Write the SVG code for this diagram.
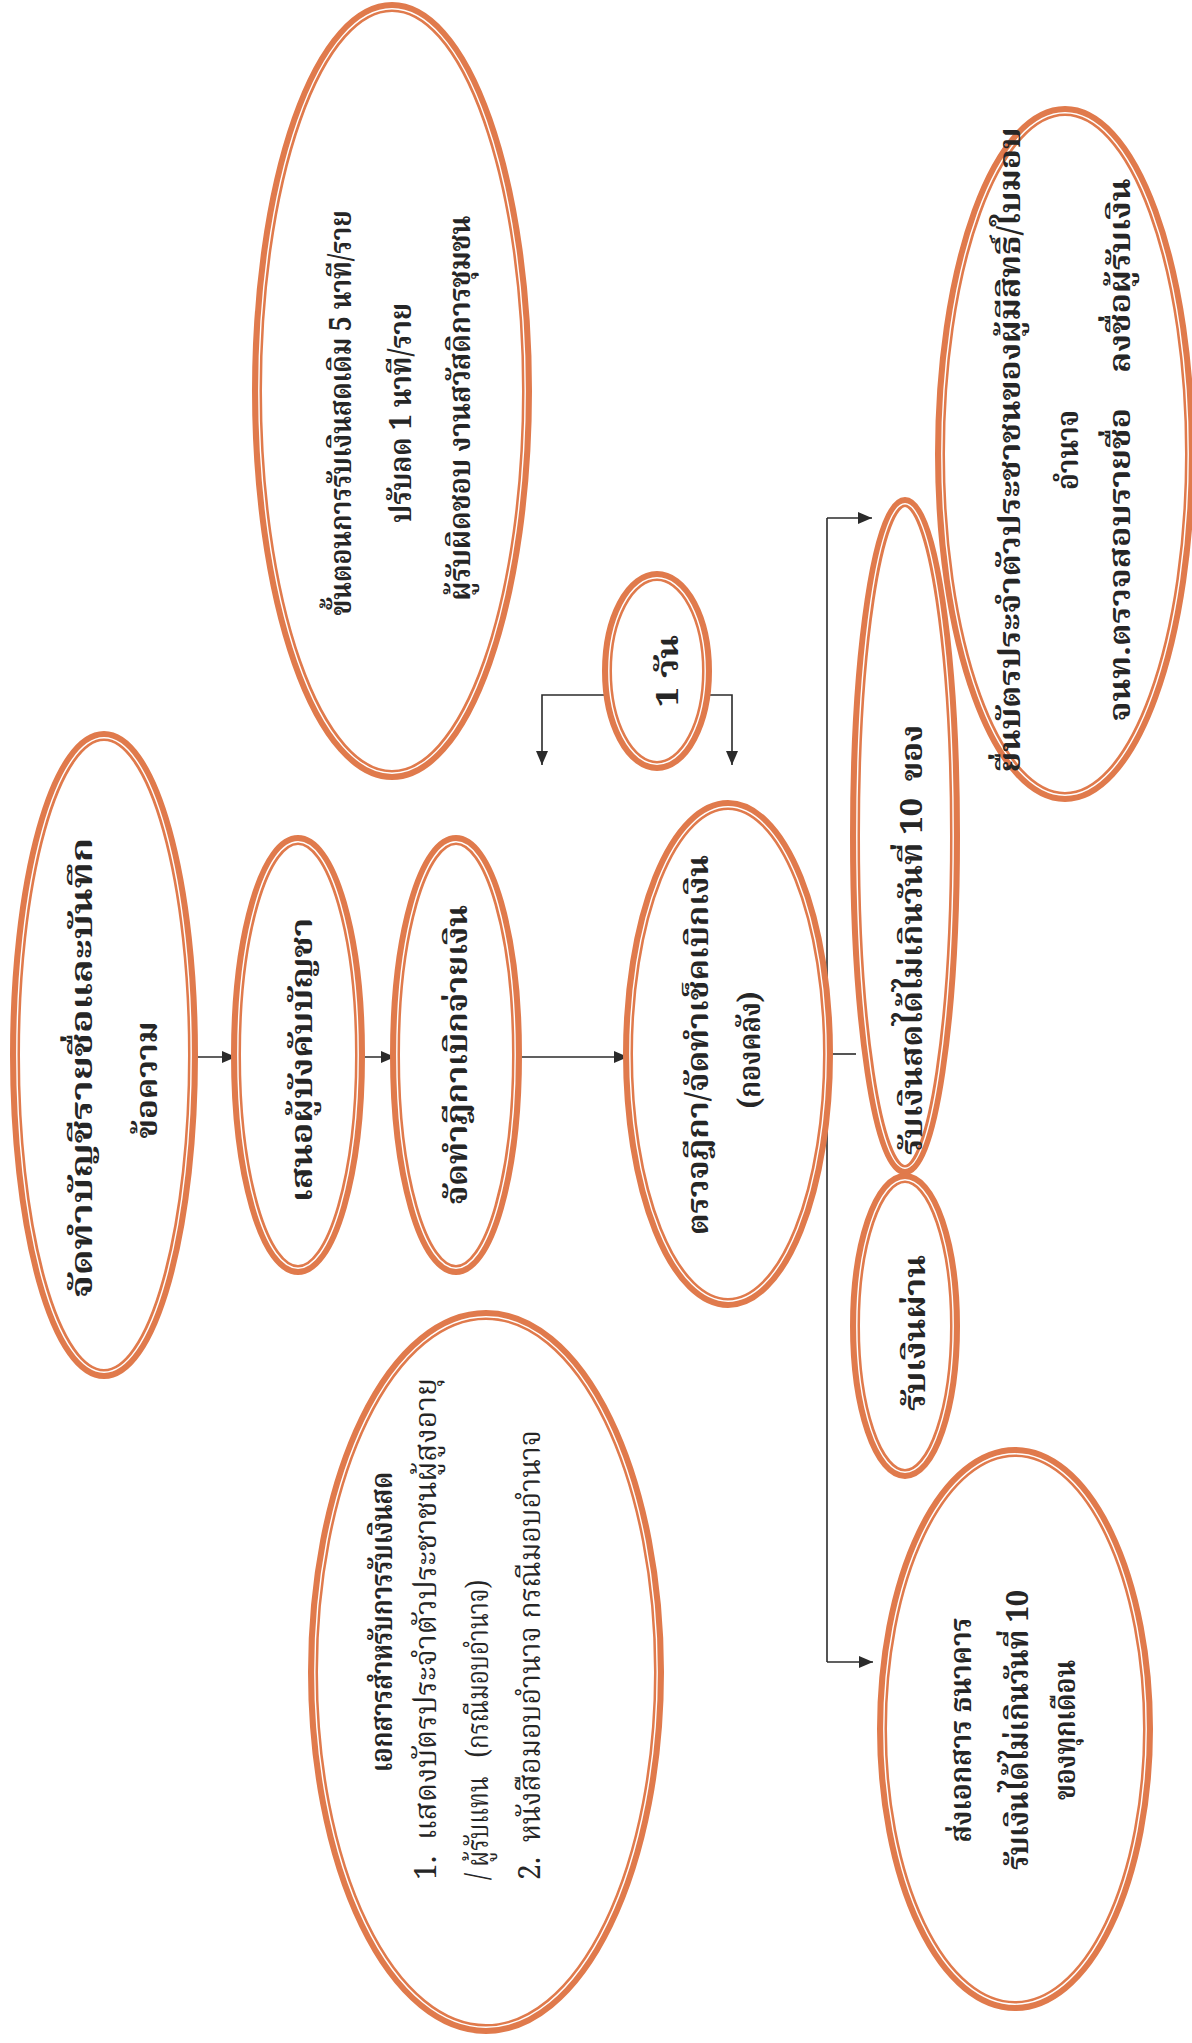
<svg xmlns="http://www.w3.org/2000/svg" width="1192" height="2043" viewBox="0 0 1192 2043">
<style>
.o{fill:none;stroke:#E07A4C;stroke-width:10}
.w{fill:none;stroke:#ffffff;stroke-width:1.4}
.t{font-family:"Noto Serif Thai","Noto Sans Thai Looped","Noto Sans Thai","Liberation Serif",serif;font-size:30px;font-weight:bold;fill:#262626}
.r{font-weight:normal}
.c{text-anchor:middle}
.s{text-anchor:start}
.ln{fill:none;stroke:#2b2b2b;stroke-width:1.6}
</style>
<defs>
<marker id="ah" viewBox="0 0 14 12" refX="14" refY="6" markerWidth="14" markerHeight="12" markerUnits="userSpaceOnUse" orient="auto"><path d="M0,0 L14,6 L0,12 z" fill="#2b2b2b"/></marker>
</defs>
<rect width="1192" height="2043" fill="#ffffff"/>
<g id="connectors">
<line class="ln" x1="193" y1="1057" x2="236" y2="1057" marker-end="url(#ah)"/>
<line class="ln" x1="362" y1="1057" x2="395" y2="1057" marker-end="url(#ah)"/>
<line class="ln" x1="518" y1="1057" x2="628" y2="1057" marker-end="url(#ah)"/>
<polyline class="ln" points="607,695 542,695 542,765" marker-end="url(#ah)"/>
<polyline class="ln" points="707,695 732,695 732,765" marker-end="url(#ah)"/>
<line class="ln" x1="827" y1="1054" x2="856" y2="1054"/>
<line class="ln" x1="827" y1="518" x2="827" y2="1662"/>
<line class="ln" x1="827" y1="518" x2="872" y2="518" marker-end="url(#ah)"/>
<line class="ln" x1="827" y1="1662" x2="873" y2="1662" marker-end="url(#ah)"/>
</g>
<g id="node-list">
<ellipse class="o" cx="104" cy="1055" rx="89" ry="319"/><ellipse class="w" cx="104" cy="1055" rx="87.2" ry="317.2"/>
<text class="t c" transform="translate(92,1068) rotate(-90)" textLength="460" lengthAdjust="spacingAndGlyphs">จัดทำบัญชีรายชื่อและบันทึก</text>
<text class="t c" transform="translate(157,1080) rotate(-90)" textLength="117" lengthAdjust="spacingAndGlyphs">ข้อความ</text>
</g>
<g id="node-propose">
<ellipse class="o" cx="298" cy="1055" rx="62" ry="215"/><ellipse class="w" cx="298" cy="1055" rx="60.2" ry="213.2"/>
<text class="t c" transform="translate(312,1060) rotate(-90)" textLength="284" lengthAdjust="spacingAndGlyphs">เสนอผู้บังคับบัญชา</text>
</g>
<g id="node-voucher">
<ellipse class="o" cx="456" cy="1055" rx="61" ry="215"/><ellipse class="w" cx="456" cy="1055" rx="59.2" ry="213.2"/>
<text class="t c" transform="translate(467,1055) rotate(-90)" textLength="300" lengthAdjust="spacingAndGlyphs">จัดทำฎีกาเบิกจ่ายเงิน</text>
</g>
<g id="node-check">
<ellipse class="o" cx="728" cy="1054" rx="100" ry="249"/><ellipse class="w" cx="728" cy="1054" rx="98.2" ry="247.2"/>
<text class="t c" transform="translate(708,1045) rotate(-90)" textLength="380" lengthAdjust="spacingAndGlyphs">ตรวจฎีกา/จัดทำเช็คเบิกเงิน</text>
<text class="t c" transform="translate(760,1050) rotate(-90)" textLength="117" lengthAdjust="spacingAndGlyphs">(กองคลัง)</text>
</g>
<g id="node-steps">
<ellipse class="o" cx="392" cy="391" rx="135" ry="384"/><ellipse class="w" cx="392" cy="391" rx="133.2" ry="382.2"/>
<text class="t c" transform="translate(351,413) rotate(-90)" textLength="405" lengthAdjust="spacingAndGlyphs">ขั้นตอนการรับเงินสดเดิม 5 นาที/ราย</text>
<text class="t c" transform="translate(411,413) rotate(-90)" textLength="220" lengthAdjust="spacingAndGlyphs">ปรับลด 1 นาที/ราย</text>
<text class="t c" transform="translate(470,408) rotate(-90)" textLength="385" lengthAdjust="spacingAndGlyphs">ผู้รับผิดชอบ งานสวัสดิการชุมชน</text>
</g>
<g id="node-oneday">
<ellipse class="o" cx="657" cy="671" rx="50" ry="95"/><ellipse class="w" cx="657" cy="671" rx="48.2" ry="93.2"/>
<text class="t c" transform="translate(678,671) rotate(-90)" textLength="72" lengthAdjust="spacingAndGlyphs">1 วัน</text>
</g>
<g id="node-cash">
<ellipse class="o" cx="905" cy="836" rx="50" ry="334"/><ellipse class="w" cx="905" cy="836" rx="48.2" ry="332.2"/>
<text class="t c" transform="translate(922,940) rotate(-90)" textLength="430" lengthAdjust="spacingAndGlyphs" xml:space="preserve">รับเงินสดได้ไม่เกินวันที่ 10  ของ</text>
</g>
<g id="node-transfer">
<ellipse class="o" cx="905" cy="1326" rx="50" ry="148"/><ellipse class="w" cx="905" cy="1326" rx="48.2" ry="146.2"/>
<text class="t c" transform="translate(925,1333) rotate(-90)" textLength="156" lengthAdjust="spacingAndGlyphs">รับเงินผ่าน</text>
</g>
<g id="node-idcard">
<ellipse class="o" cx="1065" cy="454" rx="125" ry="343"/><ellipse class="w" cx="1065" cy="454" rx="123.2" ry="341.2"/>
<text class="t c" transform="translate(1020,450) rotate(-90)" textLength="645" lengthAdjust="spacingAndGlyphs">ยื่นบัตรประจำตัวประชาชนของผู้มีสิทธิ์/ใบมอบ</text>
<text class="t c" transform="translate(1078,450) rotate(-90)" textLength="80" lengthAdjust="spacingAndGlyphs">อำนาจ</text>
<text class="t c" transform="translate(1130,450) rotate(-90)" textLength="543" lengthAdjust="spacingAndGlyphs" xml:space="preserve">จนท.ตรวจสอบรายชื่อ    ลงชื่อผู้รับเงิน</text>
</g>
<g id="node-bank">
<ellipse class="o" cx="1015" cy="1729" rx="133" ry="277"/><ellipse class="w" cx="1015" cy="1729" rx="131.2" ry="275.2"/>
<text class="t c" transform="translate(971,1730) rotate(-90)" textLength="225" lengthAdjust="spacingAndGlyphs">ส่งเอกสาร ธนาคาร</text>
<text class="t c" transform="translate(1028,1730) rotate(-90)" textLength="280" lengthAdjust="spacingAndGlyphs">รับเงินได้ไม่เกินวันที่ 10</text>
<text class="t c" transform="translate(1075,1730) rotate(-90)" textLength="140" lengthAdjust="spacingAndGlyphs">ของทุกเดือน</text>
</g>
<g id="node-docs">
<ellipse class="o" cx="486" cy="1672" rx="173" ry="357"/><ellipse class="w" cx="486" cy="1672" rx="171.2" ry="355.2"/>
<text class="t c" transform="translate(392,1622) rotate(-90)" textLength="300" lengthAdjust="spacingAndGlyphs">เอกสารสำหรับการรับเงินสด</text>
<text class="t r s" transform="translate(436,1880) rotate(-90)" textLength="502" lengthAdjust="spacingAndGlyphs" xml:space="preserve">1.  แสดงบัตรประจำตัวประชาชนผู้สูงอายุ</text>
<text class="t r s" transform="translate(488,1880) rotate(-90)" textLength="300" lengthAdjust="spacingAndGlyphs" xml:space="preserve">/ ผู้รับแทน   (กรณีมอบอำนาจ)</text>
<text class="t r s" transform="translate(540,1880) rotate(-90)" textLength="450" lengthAdjust="spacingAndGlyphs" xml:space="preserve">2.  หนังสือมอบอำนาจ กรณีมอบอำนาจ</text>
</g>
</svg>
